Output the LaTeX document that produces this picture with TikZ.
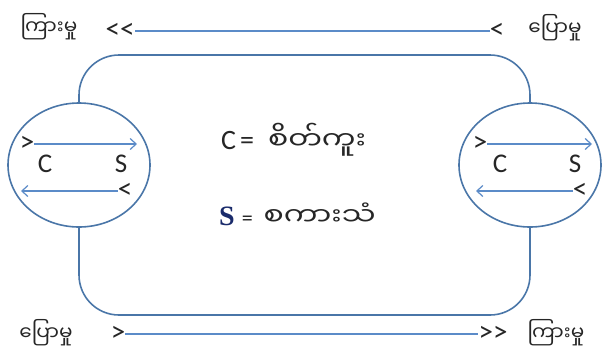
\documentclass[tikz,border=0pt]{standalone}
\usepackage{fontspec}
\usepackage{graphicx}
\setmainfont{Carlito}
\newfontfamily\my[Script=Myanmar]{Noto Sans Myanmar UI}
\newfontfamily\tnr{Liberation Serif}
\usetikzlibrary{shapes.geometric,arrows.meta}
\definecolor{rim}{HTML}{4A76A8}
\definecolor{arr}{HTML}{5B8BC8}
\definecolor{navy}{HTML}{1A2B6B}
\begin{document}
\begin{tikzpicture}[x=1pt,y=-1pt,
  rimline/.style={draw=rim,line width=1.6pt},
  arrline/.style={draw=arr,line width=1.6pt},
  glyph/.style={inner sep=0pt,font=\fontsize{29}{29}\selectfont,text=black!85},
  letter/.style={inner sep=0pt,font=\fontsize{27}{27}\selectfont,text=black!85},
  mylabel/.style={inner sep=0pt,font=\my\fontsize{20}{22}\selectfont,text=black!85},
  bubble/.style={ellipse,rimline,fill=white,minimum width=142pt,minimum height=124pt,inner sep=0pt},
  tip/.style={-{Straight Barb[length=6pt,width=11pt,line width=1.2pt]}}]
\useasboundingbox (0,0) rectangle (605,357);
\node[bubble] (lc) at (79,165) {};
\node[bubble] (rc) at (530,165) {};
% loop
\draw[rimline,rounded corners=40pt] (lc.north) -- (lc.north |- 0,55) -- (rc.north |- 0,55) -- (rc.north);
\draw[rimline,rounded corners=40pt] (lc.south) -- (lc.south |- 0,315) -- (rc.south |- 0,315) -- (rc.south);
% top and bottom labels
\node[mylabel] (tl) at (49,27) {ကြားမှု};
\node[glyph] (tlt) at (120,31) {<{}<};
\node[glyph] (trt) at (497,31) {<};
\node[mylabel] (tr) at (555,28) {ပြောမှု};
\draw[arrline] (trt.west) -- (tlt.east);
\node[mylabel] (bl) at (46,333) {ပြောမှု};
\node[glyph] (blt) at (118,334) {>};
\node[glyph] (brt) at (493,334) {>{}>};
\node[mylabel] (br) at (556,333) {ကြားမှု};
\draw[arrline] (blt.east) -- (brt.west);
% left bubble
\node[glyph] (l1) at (27,144) {>};
\coordinate (l1e) at (137,144);
\draw[arrline,tip] (l1.east) -- (l1e);
\node[letter] (lC) at (45,164) {C};
\node[letter] (lS) at (121,164) {S};
\node[glyph] (l2) at (125,191) {<};
\coordinate (l2e) at (21,191);
\draw[arrline,tip] (l2.west) -- (l2e);
% right bubble
\node[glyph] (r1) at (480,144) {>};
\coordinate (r1e) at (592,144);
\draw[arrline,tip] (r1.east) -- (r1e);
\node[letter] (rC) at (500,164) {C};
\node[letter] (rS) at (575,164) {S};
\node[glyph] (r2) at (580,191) {<};
\coordinate (r2e) at (476,191);
\draw[arrline,tip] (r2.west) -- (r2e);
% legend
\node[inner sep=0pt,anchor=west,text=black!85] (leg1) at (221,140) {\fontsize{28}{28}\selectfont C\hspace{4pt}=\hspace{14pt}\scalebox{1.2}[1]{\my\fontsize{25}{27}\selectfont စိတ်ကူး}};
\node[inner sep=0pt,anchor=west,text=black!85] (leg2) at (219,214) {{\tnr\bfseries\fontsize{28}{28}\selectfont\color{navy}S}\hspace{7pt}{\fontsize{22}{22}\selectfont =}\hspace{11pt}\scalebox{1.2}[1]{\my\fontsize{25}{27}\selectfont စကားသံ}};
\end{tikzpicture}
\end{document}
